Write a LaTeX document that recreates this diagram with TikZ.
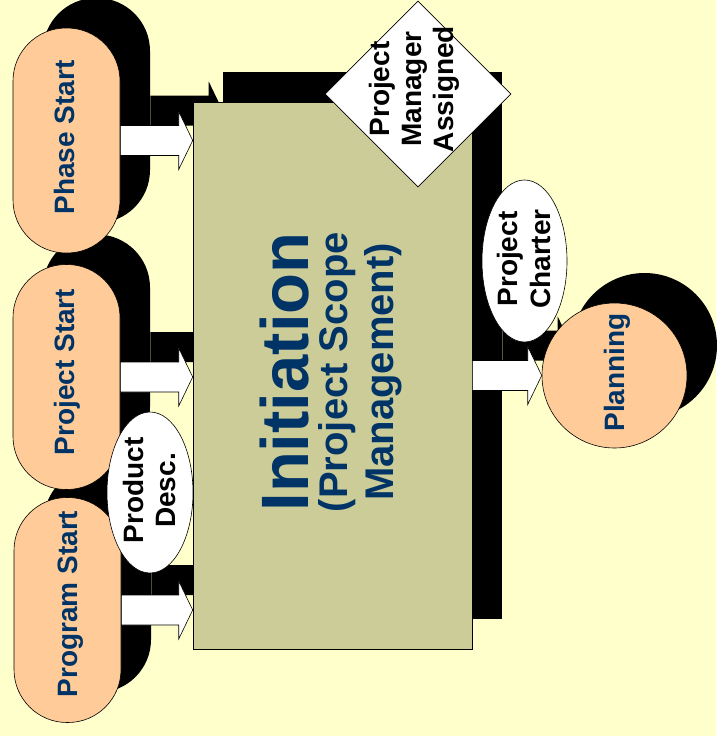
\documentclass[tikz,border=0pt]{standalone}
\usepackage{fontspec}
\setmainfont{Liberation Sans}
\usetikzlibrary{calc,shapes.geometric}
\definecolor{bgyellow}{HTML}{FFFFCC}
\definecolor{peach}{HTML}{FFCC99}
\definecolor{khaki}{HTML}{CCCC99}
\definecolor{navy}{HTML}{003366}
\pgfdeclarelayer{bg}
\pgfdeclarelayer{shade}
\pgfsetlayers{bg,shade,main}
\begin{document}
\begin{tikzpicture}[x=1pt,y=-1pt,
  shadowed/.style={preaction={fill=black,draw=none,transform canvas={shift={(30pt,30pt)}}}},
  outline/.style={draw=black,line width=0.6pt},
  lbl/.style={font=\fontsize{28}{32}\selectfont\bfseries},
  pill/.style={rectangle,rounded corners=53pt,minimum width=107pt,minimum height=225pt,
    inner sep=0pt,fill=peach,outline,text=navy,lbl,shadowed},
  blockarr/.style={to path={let \p1=(\tikztostart),\p2=(\tikztotarget) in
    (\x1,\y1+15pt) -- (\x2-14pt,\y1+15pt) -- (\x2-14pt,\y1+29pt) -- (\x2,\y1)
    -- (\x2-14pt,\y1-29pt) -- (\x2-14pt,\y1-15pt) -- (\x1,\y1-15pt) -- cycle}},
  warrow/.style={fill=white,outline,line join=miter},
  wshape/.style={fill=white,outline,inner sep=0pt},
  rtext/.style={rotate=90,align=center,inner sep=0pt,text=black,lbl}
]
\begin{pgfonlayer}{bg}
\fill[bgyellow] (0,0) rectangle (716,736);
\end{pgfonlayer}
\useasboundingbox (0,0) rectangle (716,736);

% start pills
\node[pill] (pg) at (67.5,610) {\rotatebox{90}{\hspace*{12pt}\raisebox{0pt}[20pt][0pt]{Program Start}}};
\node[pill] (pj) at (66.5,377) {\rotatebox{90}{\hspace*{10pt}\raisebox{0pt}[20pt][5pt]{Project Start}}};
\node[pill] (ph) at (66.5,140.5) {\rotatebox{90}{\hspace*{6pt}\raisebox{0pt}[20pt][5pt]{Phase Start}}};

% main process
\node[rectangle,minimum width=279pt,minimum height=547pt,fill=khaki,outline,shadowed] (main) at (332.5,375.5) {};
\node[rotate=90,align=center,inner sep=0pt,text=navy,font=\fontsize{40}{46}\selectfont\bfseries] (mt) at (331,372)
  {{\fontsize{67}{67}\selectfont Initiation}\\[-7pt](Project Scope\\Management)};

% input arrows
\foreach \nm in {ph,pj,pg} \draw[warrow] (\nm.east) to[blockarr] (main.west |- \nm.east);

% product description
\node[ellipse,minimum width=86pt,minimum height=161pt,wshape] (pd) at (150,492.5) {};
\node[rtext] (pdt) at (149,490.5) {Product\\Desc.};

% planning
\node[circle,minimum size=145pt,inner sep=0pt,fill=peach,outline,shadowed,text=navy,lbl] (pl) at (614.5,375.5)
  {\rotatebox{90}{\hspace*{6pt}\raisebox{0pt}[20pt][0pt]{Planning}}};
\draw[warrow] (main.east) to[blockarr] (pl.west |- main.east);

% project charter
\node[ellipse,minimum width=85pt,minimum height=162pt,wshape] (pc) at (524.5,261) {};
\node[rtext,font=\fontsize{28}{33}\selectfont\bfseries] (pct) at (523.5,259) {Project\\Charter};

% project manager assigned
\node[diamond,minimum width=186pt,minimum height=186pt,wshape] (pm) at (418,94) {};
\node[rtext] (pmt) at (414.5,89) {Project\\Manager\\Assigned};

% arrow shadows
\begin{pgfonlayer}{shade}
\foreach \nm in {ph,pj,pg}
  \fill[black] ($(\nm.east)+(30,-30)$) to[blockarr] ($(main.west |- \nm.east)+(30,-30)$);
\fill[black] ($(main.east)+(30,-30)$) to[blockarr] ($(pl.west |- main.east)+(30,-30)$);
\end{pgfonlayer}
\end{tikzpicture}
\end{document}
